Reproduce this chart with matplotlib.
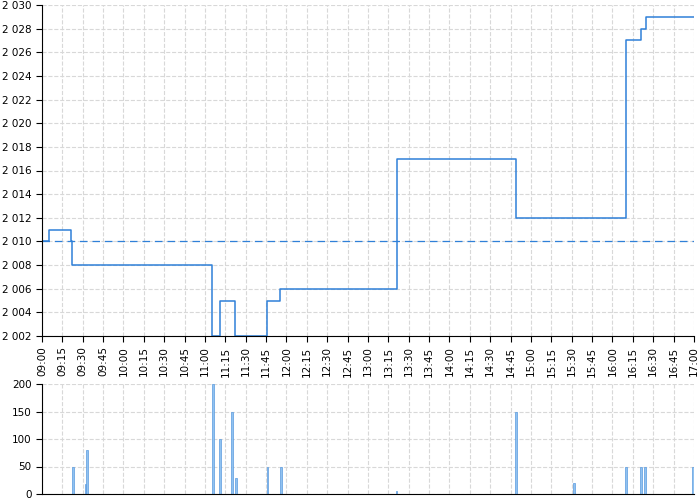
import matplotlib
matplotlib.use('Agg')
import matplotlib.pyplot as plt
from matplotlib.ticker import FuncFormatter, MultipleLocator

# price steps (time the price changed, new price)
step_times = ['09:00', '09:05', '09:21', '09:22', '11:05', '11:11', '11:22',
              '11:46', '11:55', '13:21', '14:49', '16:10', '16:21', '16:25', '17:00']
step_prices = [2010, 2011, 2010, 2008, 2002, 2005, 2002,
               2005, 2006, 2017, 2012, 2027, 2028, 2029, 2029]
prev_close = 2010

# traded volume
vol_times = ['09:23', '09:32', '09:33', '11:06', '11:11', '11:20', '11:23',
             '11:46', '11:56', '13:21', '14:49', '15:32', '16:10', '16:21', '16:24', '16:59']
vol_values = [50, 18, 80, 200, 100, 150, 30,
              50, 50, 5, 150, 20, 50, 50, 50, 50]

tick_labels = ['%02d:%02d' % (h, m) for h in range(9, 17) for m in (0, 15, 30, 45)] + ['17:00']


def to_min(s):
    h, m = s.split(':')
    return int(h) * 60 + int(m)


sx = [to_min(t) for t in step_times]
vx = [to_min(t) for t in vol_times]
ticks = [to_min(t) for t in tick_labels]

blue = '#2f80d8'
grid_kw = dict(color='#d8d8d8', linestyle='--', linewidth=0.8)

fig = plt.figure(figsize=(7, 5), dpi=100)
ax = fig.add_axes([0.06, 0.328, 0.9314, 0.662])
av = fig.add_axes([0.06, 0.012, 0.9314, 0.22])

ax.step(sx, step_prices, where='post', color=blue, linewidth=1.1)
ax.axhline(prev_close, color=blue, linestyle=(0, (6, 4)), linewidth=0.9)
ax.set_xlim(ticks[0], ticks[-1])
ax.set_ylim(2002, 2030)
ax.yaxis.set_major_locator(MultipleLocator(2))
ax.yaxis.set_major_formatter(FuncFormatter(lambda v, p: '{:,.0f}'.format(v).replace(',', ' ')))
ax.set_xticks(ticks)
ax.set_xticklabels(tick_labels, rotation=90)
ax.grid(True, **grid_kw)
ax.set_axisbelow(True)

av.bar(vx, vol_values, width=1.4, color='#90c2f0', edgecolor='#5a9be0', linewidth=0.5, align='center')
av.set_xlim(ticks[0], ticks[-1])
av.set_ylim(0, 200)
av.set_yticks([0, 50, 100, 150, 200])
av.set_xticks(ticks)
av.grid(True, **grid_kw)
av.set_axisbelow(True)

for a in (ax, av):
    a.spines['top'].set_visible(False)
    a.spines['right'].set_visible(False)
    a.tick_params(labelsize=7.5, length=4)
    a.set_facecolor('white')

av.tick_params(axis='x', length=0, labelbottom=False)

fig.savefig('out.png', dpi=100)
